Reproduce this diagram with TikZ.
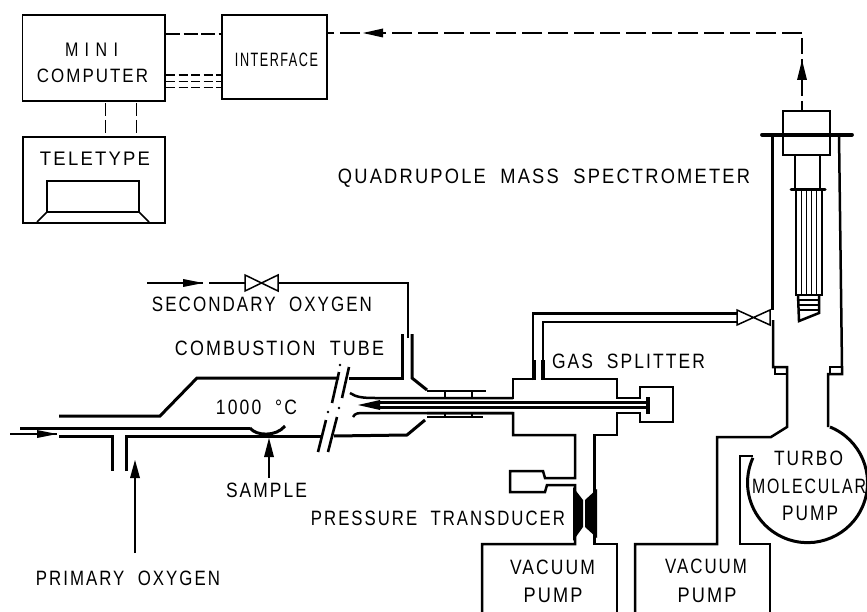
\documentclass[tikz,border=0pt]{standalone}
\usepackage{graphicx}
\usepackage{fontspec}
\setmainfont[LetterSpace=12]{Liberation Sans}
\newcommand{\lblheight}{13.5}
\newcommand{\fitlbl}[2]{\resizebox{#1pt}{\lblheight pt}{#2}}
\tikzset{
  lbl/.style={inner sep=0pt,outer sep=0pt},
  blockbox/.style={draw,line width=1.7pt,inner sep=0pt,anchor=north west},
  thinline/.style={line width=1.3pt},
  datadash/.style={line width=1.4pt,dash pattern=on 9pt off 3.5pt},
  pipe/.style={line width=2.5pt,line join=miter},
  thick pipe/.style={line width=3pt,line join=miter},
  valveshape/.style={line width=1.5pt,fill=white,line join=miter},
}
\begin{document}
\begin{tikzpicture}[x=1pt,y=-1pt]
\useasboundingbox (0,0) rectangle (867,612);
% blocks
\node[blockbox,minimum width=142.5pt,minimum height=86pt] (mini) at (21.5,14) {};
\node[blockbox,minimum width=105pt,minimum height=84pt] (iface) at (221,14) {};
\node[blockbox,minimum width=142pt,minimum height=86pt] (tty) at (22,136) {};
\node[lbl] (tmini) at (91.5,50) {\fitlbl{53}{M I N I}};
\node[lbl] (tcomp) at (92.5,76) {\fitlbl{111}{COMPUTER}};
\node[lbl] (tiface) at (276.5,60) {\fitlbl{83}{INTERFACE}};
\node[lbl] (ttty) at (95,159) {\fitlbl{110}{TELETYPE}};
% teletype screen
\draw[line width=1.6pt] (37,222) -- (47,212) -- (47,181) -- (139,181) -- (139,212) -- (149,222);
\draw[line width=1.6pt] (47,212) -- (139,212);
% data links
\coordinate (m1) at (166,34);   \coordinate (i1) at (221,34);
\coordinate (m2) at (166,75);   \coordinate (i2) at (221,75);
\coordinate (m3) at (166,81.5); \coordinate (i3) at (221,81.5);
\coordinate (m4) at (166,87.5); \coordinate (i4) at (221,87.5);
\coordinate (t1a) at (105.5,103); \coordinate (t1b) at (105.5,136);
\coordinate (t2a) at (136.5,103); \coordinate (t2b) at (136.5,136);
\draw[datadash,dash pattern=on 14pt off 3.5pt] (m1) -- (i1);
\draw[datadash] (m2) -- (i2);
\draw[datadash] (m3) -- (i3);
\draw[datadash] (m4) -- (i4);
\draw[thinline,dash pattern=on 13pt off 4pt] (t1a) -- (t1b);
\draw[thinline,dash pattern=on 13pt off 4pt] (t2a) -- (t2b);
% spectrometer signal
\coordinate (scorner) at (802,33);
\coordinate (sbox) at (802,111);
\coordinate (ifr) at (326,33);
\draw[line width=1.4pt,dash pattern=on 20pt off 6pt] (scorner) -- (ifr);
\fill (363,33) -- (383,28.5) -- (383,37.5) -- cycle;
\draw[line width=1.4pt,dash pattern=on 16pt off 5pt] (802,38) -- (sbox);
\fill (802,60) -- (797,80) -- (807,80) -- cycle;
% spectrometer head
\draw[pipe,fill=white] (783,111) rectangle (830,155);
\draw[line width=3.8pt,line cap=round] (762,134.7) -- (852,134.7);
\draw[pipe] (772.7,135) -- (772.7,310);
\draw[pipe] (773,320) -- (773,367) -- (787,367) -- (787,427) -- (771,437) -- (717,437) -- (717,544) -- (635,544) -- (635,612);
\draw[pipe] (839,135) -- (842,367) -- (842,374) -- (828,374) -- (828,427);
\draw[line width=1.8pt] (775,367) rectangle (787,374);
\draw[line width=1.8pt] (830,367) rectangle (842,374);
\draw[pipe] (795,155) -- (795,190);
\draw[pipe] (820,155) -- (820,190);
\draw[line width=3pt,line cap=round] (791,190) -- (825,190);
\draw[line width=2.8pt] (796,190) -- (796,295) -- (822,295) -- (822,190);
\foreach \vx in {801,806,811,816} \draw[line width=1pt] (\vx,190) -- (\vx,295);
\draw[pipe] (798,295) -- (799,321) -- (819,313) -- (819,295);
\foreach \vy in {300,305,310} \draw[line width=2pt] (799,\vy) -- (819,\vy);
% transfer line and valve
\draw[pipe] (533,380) -- (533,313.5) -- (737,313.5);
\draw[pipe] (543,380) -- (543,322) -- (737,322);
\draw[line width=3.6pt] (534,360) -- (534,380);
\draw[line width=3.6pt] (543,360) -- (543,380);
\draw[valveshape] (737,310) -- (770,325) -- (770,310) -- (737,325) -- cycle;
% splitter chamber
\draw[pipe] (427,398) -- (513,398) -- (513,379) -- (533,379);
\draw[pipe] (543,379) -- (617,379) -- (617,398) -- (640,398) -- (640,387) -- (673,387) -- (673,422) -- (640,422) -- (640,413) -- (617,413) -- (617,435) -- (594.5,435) -- (594.5,544) -- (617,544) -- (617,612);
\draw[pipe] (427,413) -- (513,413) -- (513,435) -- (575,435) -- (575,478) -- (545,478) -- (543,471) -- (510,471) -- (510,492) -- (545,492) -- (547,485) -- (575,485) -- (575,544) -- (482,544) -- (482,612);
\fill (573,487) -- (583,500) -- (583,527) -- (573,541) -- cycle;
\fill (597,489) -- (585,500) -- (585,527) -- (597,538) -- cycle;
% inner tubes
\draw[pipe] (350,393) .. controls (356,397) and (362,398) .. (375,398) -- (513,398);
\draw[pipe] (353,417) .. controls (355,413) and (358,413) .. (365,413) -- (513,413);
\draw[pipe] (375,402.5) -- (647,402.5);
\draw[pipe] (375,407.5) -- (647,407.5);
\fill (358,405) -- (380,400) -- (380,410) -- cycle;
\draw[line width=3.8pt] (648,397) -- (648,414);
\draw[pipe] (427,391) -- (486,391);
\draw[pipe] (427,417) -- (483,417);
\foreach \vx in {445,472} {
  \draw[line width=1.4pt] (\vx,391) -- (\vx,398);
  \draw[line width=1.4pt] (\vx,413) -- (\vx,417);
}
% combustion tube
\draw[thick pipe] (59,416) -- (160,416) -- (197,378) -- (339,378);
\draw[thick pipe] (349,378) -- (402,378) -- (402,334);
\draw[thick pipe] (412,334) -- (412,378) -- (427,390);
\draw[thick pipe] (59,436.5) -- (112.5,436.5) -- (112.5,471);
\draw[thick pipe] (126,471) -- (126,436.5) -- (322,436.5);
\draw[thick pipe] (334,436) -- (407,435) -- (425,420);
\draw[thick pipe] (20,428) -- (250,428);
\draw[thick pipe] (250,428) .. controls (256,436) and (276,437) .. (285,426);
% breaks
\draw[line width=2.6pt] (339,372) -- (332,403);
\draw[line width=2.6pt] (349,367) -- (342,398);
\draw[line width=2.6pt] (326,420) -- (318,452);
\draw[line width=2.6pt] (337,417) -- (328,452);
\fill (340,365) circle (1.4);
\fill (339,408) circle (1.4);
\fill (328,412) circle (1.4);
% gas feeds
\coordinate (sec0) at (147,283); \coordinate (sec1) at (203,283);
\coordinate (sec2) at (209,283); \coordinate (sec3) at (245,283);
\coordinate (sec4) at (278,283); \coordinate (sec5) at (408,283); \coordinate (sec6) at (408,338);
\draw[thinline] (sec0) -- (sec1);
\fill (203,283) -- (183,279) -- (183,287) -- cycle;
\draw[thinline] (sec2) -- (sec3);
\draw[thinline] (sec4) -- (sec5) -- (sec6);
\draw[valveshape] (245,275) -- (278,291) -- (278,275) -- (245,291) -- cycle;
\draw[thinline] (10,434) -- (57,434);
\fill (57,434) -- (37,430) -- (37,438) -- cycle;
\draw[thinline] (135,553) -- (135,478);
\fill (135,460) -- (130,478) -- (140,478) -- cycle;
\draw[thinline] (269,478) -- (269,457);
\fill (269,438) -- (264,457) -- (274,457) -- cycle;
% turbo pump
\draw[line width=3pt] (830,427) arc[start angle=-68,end angle=204.4,radius=60];
\draw[pipe] (753,456) -- (740,456) -- (740,544) -- (770,544) -- (770,612);
% labels
\renewcommand{\lblheight}{14.5}
\node[lbl] (tsec) at (262,304) {\fitlbl{220}{SECONDARY\ \ OXYGEN}};
\node[lbl] (tcomb) at (279.5,348) {\fitlbl{209}{COMBUSTION\ \ TUBE}};
\node[lbl] (ttemp) at (256.5,407) {\fitlbl{81}{1000\ \ °C}};
\node[lbl] (tsamp) at (266.5,490) {\fitlbl{81}{SAMPLE}};
\node[lbl] (tprim) at (128,578) {\fitlbl{184}{PRIMARY\ \ OXYGEN}};
\node[lbl] (tpres) at (438,518) {\fitlbl{254}{PRESSURE\ \ TRANSDUCER}};
\node[lbl] (tgas) at (628.5,361) {\fitlbl{153}{GAS\ \ SPLITTER}};
\node[lbl] (tquad) at (544,178) {\fitlbl{412}{QUADRUPOLE\ \ MASS\ \ SPECTROMETER}};
\node[lbl] (tv1) at (552.5,567) {\fitlbl{85}{VACUUM}};
\node[lbl] (tp1) at (553,595) {\fitlbl{59}{PUMP}};
\node[lbl] (tv2) at (706,566) {\fitlbl{82}{VACUUM}};
\node[lbl] (tp2) at (707,595) {\fitlbl{59}{PUMP}};
\node[lbl] (ttur) at (808.5,458) {\fitlbl{69}{TURBO}};
\node[lbl] (tmol) at (809,486) {\fitlbl{114}{MOLECULAR}};
\node[lbl] (tp3) at (810,513) {\fitlbl{56}{PUMP}};
\end{tikzpicture}
\end{document}
